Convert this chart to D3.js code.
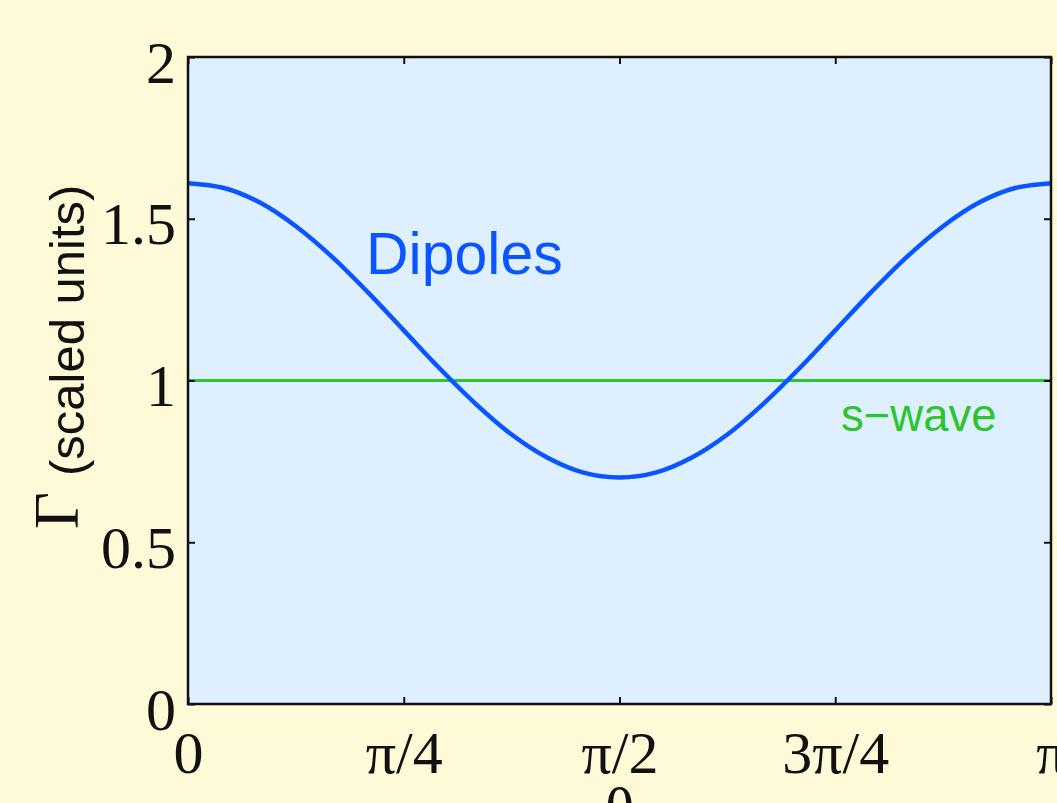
<!DOCTYPE html>
<html>
<head>
<meta charset="utf-8">
<script src="https://cdn.jsdelivr.net/npm/d3@7"></script>
<style>
  body { margin: 0; background: #fefad8; overflow: hidden; }
</style>
</head>
<body>
<div id="chart"></div>
<script>
// theta positions (in units of pi) and dipole rate
var thetaOverPi = [0, 0.0417, 0.0833, 0.125, 0.1667, 0.2083, 0.25, 0.2917, 0.3333, 0.375, 0.4167, 0.4583, 0.5,
                   0.5417, 0.5833, 0.625, 0.6667, 0.7083, 0.75, 0.7917, 0.8333, 0.875, 0.9167, 0.9583, 1]
var dipoles = [1.61, 1.595, 1.55, 1.477, 1.383, 1.273, 1.155, 1.037, 0.928, 0.833, 0.761, 0.715, 0.70,
               0.715, 0.761, 0.833, 0.928, 1.037, 1.155, 1.273, 1.383, 1.477, 1.55, 1.595, 1.61]
var sWave = [1, 1]
var sWaveTheta = [0, 1]

var xTickValues = [0, 0.25, 0.5, 0.75, 1]
var xTickLabels = ["0", "π/4", "π/2", "3π/4", "π"]
var yTickValues = [0, 0.5, 1, 1.5, 2]
var yTickLabels = ["0", "0.5", "1", "1.5", "2"]

function initialize() {

	var width = 1057,
		height = 803,
		left = 188, right = 1051, top = 57, bottom = 704

	var svg = d3.select("#chart")
		.append("svg")
		.attr("width", width)
		.attr("height", height)

	var x = d3.scaleLinear().domain([0, Math.PI]).range([left, right])
	var y = d3.scaleLinear().domain([0, 2]).range([bottom, top])

	// plot background
	svg.append("rect")
		.attr("x", left).attr("y", top)
		.attr("width", right - left).attr("height", bottom - top)
		.attr("fill", "#def0ff")

	// s-wave line
	var line = d3.line()
		.x(function(d) { return x(d[0] * Math.PI) })
		.y(function(d) { return y(d[1]) })

	svg.append("path")
		.datum(sWaveTheta.map(function(t, i) { return [t, sWave[i]] }))
		.attr("d", line)
		.attr("fill", "none")
		.attr("stroke", "#2cc52c")
		.attr("stroke-width", 3)

	// dipoles curve
	svg.append("path")
		.datum(thetaOverPi.map(function(t, i) { return [t, dipoles[i]] }))
		.attr("d", line.curve(d3.curveCatmullRom))
		.attr("fill", "none")
		.attr("stroke", "#0a55ff")
		.attr("stroke-width", 4.5)

	// axes, MATLAB style box with inward ticks
	var tickX = xTickValues.map(function(v) { return v * Math.PI })
	var fmtX = function(d, i) { return xTickLabels[i] }
	var fmtY = function(d, i) { return yTickLabels[i] }

	svg.append("g")
		.attr("transform", "translate(0," + bottom + ")")
		.call(d3.axisBottom(x).tickValues(tickX).tickFormat(fmtX).tickSizeInner(-7).tickSizeOuter(0).tickPadding(0))
		.attr("class", "xaxis")
	svg.append("g")
		.attr("transform", "translate(0," + top + ")")
		.call(d3.axisTop(x).tickValues(tickX).tickFormat("").tickSizeInner(-7).tickSizeOuter(0))
	svg.append("g")
		.attr("transform", "translate(" + left + ",0)")
		.call(d3.axisLeft(y).tickValues(yTickValues).tickFormat(fmtY).tickSizeInner(-7).tickSizeOuter(0).tickPadding(0))
		.attr("class", "yaxis")
	svg.append("g")
		.attr("transform", "translate(" + right + ",0)")
		.call(d3.axisRight(y).tickValues(yTickValues).tickFormat("").tickSizeInner(-7).tickSizeOuter(0))

	svg.selectAll(".domain").remove()
	svg.selectAll(".tick line").attr("stroke", "#111").attr("stroke-width", 2)

	svg.selectAll(".xaxis text")
		.attr("y", 69).attr("dy", null)
		.attr("font-family", "Liberation Serif, Times New Roman, serif")
		.attr("font-size", 60).attr("fill", "#111")
	svg.selectAll(".yaxis text")
		.attr("x", -12).attr("dy", 25)
		.attr("font-family", "Liberation Serif, Times New Roman, serif")
		.attr("font-size", 60).attr("fill", "#111")

	svg.append("rect")
		.attr("x", left).attr("y", top)
		.attr("width", right - left).attr("height", bottom - top)
		.attr("fill", "none").attr("stroke", "#111").attr("stroke-width", 2.5)

	// axis labels
	svg.append("text")
		.text("θ")
		.attr("x", (left + right) / 2).attr("y", 830)
		.attr("text-anchor", "middle")
		.attr("font-family", "Liberation Serif, serif")
		.attr("font-size", 62).attr("fill", "#111")

	svg.append("text")
		.text("Γ")
		.attr("transform", "translate(78,529) rotate(-90)")
		.attr("font-family", "Liberation Serif, serif")
		.attr("font-size", 64).attr("fill", "#111")
	svg.append("text")
		.text("(scaled units)")
		.attr("transform", "translate(84,476) rotate(-90)")
		.attr("font-family", "Liberation Sans, Arial, sans-serif")
		.attr("font-size", 49).attr("fill", "#111")

	// curve labels
	svg.append("text")
		.text("Dipoles")
		.attr("x", 366).attr("y", 274)
		.attr("font-family", "Liberation Sans, Arial, sans-serif")
		.attr("font-size", 59).attr("fill", "#0a55ff")
	svg.append("text")
		.text("s−wave")
		.attr("x", 841).attr("y", 431)
		.attr("font-family", "Liberation Sans, Arial, sans-serif")
		.attr("font-size", 45.5).attr("fill", "#2cc52c")
}

initialize()
</script>
</body>
</html>
